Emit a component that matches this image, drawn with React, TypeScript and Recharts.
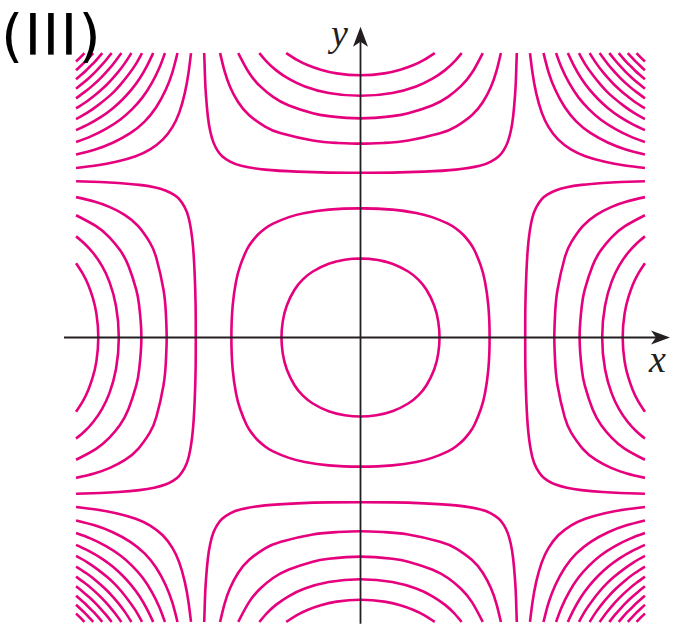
import React from "react";
import { LineChart, Line, XAxis, YAxis, ReferenceLine, ReferenceDot } from "recharts";

// level curves, first quadrant only (x, y in plot units)
const innerRing = [[0, 0.497], [0.1, 0.489], [0.2, 0.464], [0.3, 0.415], [0.364, 0.364], [0.415, 0.3], [0.464, 0.2], [0.489, 0.1], [0.497, 0]];
const outerRing = [[0, 0.812], [0.2, 0.804], [0.35, 0.783], [0.45, 0.757], [0.55, 0.716], [0.6, 0.685], [0.646, 0.646], [0.685, 0.6], [0.716, 0.55], [0.757, 0.45], [0.783, 0.35], [0.804, 0.2], [0.812, 0]];

// side bands (right side, upper half)
const side1 = [[1.036, 0], [1.037, 0.2], [1.043, 0.4], [1.056, 0.6], [1.08, 0.75], [1.106, 0.82], [1.14, 0.87], [1.177, 0.9], [1.227, 0.925], [1.297, 0.945], [1.39, 0.96], [1.524, 0.972], [1.637, 0.978], [1.789, 0.983]];
const side2 = [[1.219, 0], [1.224, 0.15], [1.239, 0.3], [1.284, 0.5], [1.326, 0.6], [1.398, 0.7], [1.481, 0.77], [1.576, 0.82], [1.675, 0.855], [1.789, 0.883]];
const side3 = [[1.378, 0], [1.392, 0.2], [1.41, 0.3], [1.459, 0.45], [1.513, 0.55], [1.579, 0.63], [1.663, 0.7], [1.789, 0.769]];
const side4 = [[1.52, 0], [1.538, 0.2], [1.579, 0.35], [1.626, 0.45], [1.68, 0.53], [1.735, 0.59], [1.789, 0.636]];
const side5 = [[1.649, 0], [1.661, 0.15], [1.684, 0.25], [1.712, 0.33], [1.746, 0.4], [1.789, 0.467]];

// corner arcs (top-right corner)
const corner1 = [[1.066, 1.789], [1.082, 1.663], [1.105, 1.537], [1.14, 1.414], [1.183, 1.323], [1.244, 1.244], [1.323, 1.183], [1.414, 1.14], [1.537, 1.105], [1.663, 1.082], [1.789, 1.066]];
const corner2 = [[1.151, 1.789], [1.183, 1.668], [1.225, 1.558], [1.285, 1.448], [1.358, 1.358], [1.448, 1.285], [1.558, 1.225], [1.668, 1.183], [1.789, 1.151]];
const corner3 = [[1.23, 1.789], [1.265, 1.696], [1.312, 1.601], [1.371, 1.51], [1.436, 1.436], [1.51, 1.371], [1.601, 1.312], [1.696, 1.265], [1.789, 1.23]];
const corner4 = [[1.304, 1.789], [1.342, 1.71], [1.389, 1.629], [1.442, 1.557], [1.497, 1.497], [1.557, 1.442], [1.629, 1.389], [1.71, 1.342], [1.789, 1.304]];
const corner5 = [[1.374, 1.789], [1.414, 1.718], [1.46, 1.652], [1.507, 1.593], [1.548, 1.548], [1.593, 1.507], [1.652, 1.46], [1.718, 1.414], [1.789, 1.374]];
const corner6 = [[1.441, 1.789], [1.483, 1.724], [1.526, 1.667], [1.562, 1.626], [1.593, 1.593], [1.626, 1.562], [1.667, 1.526], [1.724, 1.483], [1.789, 1.441]];
const corner7 = [[1.504, 1.789], [1.543, 1.736], [1.581, 1.689], [1.633, 1.633], [1.689, 1.581], [1.736, 1.543], [1.789, 1.504]];
const corner8 = [[1.565, 1.789], [1.6, 1.745], [1.634, 1.706], [1.669, 1.669], [1.706, 1.634], [1.745, 1.6], [1.789, 1.565]];
const corner9 = [[1.624, 1.789], [1.652, 1.756], [1.679, 1.726], [1.703, 1.703], [1.726, 1.679], [1.756, 1.652], [1.789, 1.624]];
const corner10 = [[1.681, 1.789], [1.706, 1.762], [1.733, 1.733], [1.762, 1.706], [1.789, 1.681]];
const corner11 = [[1.736, 1.789], [1.762, 1.762], [1.789, 1.736]];

const rings = [innerRing, outerRing];
const sides = [side1, side2, side3, side4, side5];
const corners = [corner1, corner2, corner3, corner4, corner5, corner6, corner7, corner8, corner9, corner10, corner11];

const PINK = "#E6007E";
const INK = "#231F20";

type P = { x: number; y: number };
const pts = (a: number[][], sx = 1, sy = 1, swap = false): P[] =>
  a.map(([x, y]) => (swap ? { x: sx * y, y: sy * x } : { x: sx * x, y: sy * y }));

const series: P[][] = [];
rings.forEach((q) => {
  const loop = [
    ...pts(q),
    ...pts([...q].reverse(), 1, -1).slice(1),
    ...pts(q, -1, -1).slice(1),
    ...pts([...q].reverse(), -1, 1).slice(1),
    ...pts(q).slice(1, 3),
  ];
  series.push(loop);
});
sides.forEach((h) => {
  const full = [...[...h].reverse().map(([x, y]) => [x, -y]), ...h.slice(1)];
  series.push(pts(full, 1, 1), pts(full, -1, 1), pts(full, 1, 1, true), pts(full, 1, -1, true));
});
corners.forEach((c) => {
  series.push(pts(c, 1, 1), pts(c, -1, 1), pts(c, 1, -1), pts(c, -1, -1));
});

const xArrow = (p: any) => {
  const { cx, cy } = p;
  return <path d={`M${cx},${cy} L${cx - 19},${cy - 7} L${cx - 14},${cy} L${cx - 19},${cy + 7} Z`} fill={INK} />;
};
const yArrow = (p: any) => {
  const { cx, cy } = p;
  return <path d={`M${cx},${cy} L${cx - 7.5},${cy + 20} L${cx},${cy + 15} L${cx + 7.5},${cy + 20} Z`} fill={INK} />;
};

export default function App() {
  return (
    <div style={{ position: "absolute", left: 0, top: 0, width: 673, height: 624, background: "#fff" }}>
      <LineChart width={673} height={624} margin={{ top: 0, right: 0, bottom: 0, left: 0 }}>
        <XAxis type="number" dataKey="x" hide domain={[-2.2673, 1.9654]} allowDataOverflow />
        <YAxis type="number" dataKey="y" hide domain={[-1.8019, 2.1226]} allowDataOverflow />
        {series.map((s, i) => (
          <Line
            key={i}
            data={s}
            dataKey="y"
            type="natural"
            stroke={PINK}
            strokeWidth={2.6}
            dot={false}
            activeDot={false}
            isAnimationActive={false}
          />
        ))}
        <ReferenceLine segment={[{ x: -1.865, y: 0 }, { x: 1.86, y: 0 }]} stroke={INK} strokeWidth={1.8} />
        <ReferenceLine segment={[{ x: 0, y: -1.8 }, { x: 0, y: 1.87 }]} stroke={INK} strokeWidth={1.8} />
        <ReferenceDot x={1.9465} y={0} r={0} shape={xArrow} />
        <ReferenceDot x={0} y={1.955} r={0} shape={yArrow} />
      </LineChart>
      <svg width={673} height={624} style={{ position: "absolute", left: 0, top: 0, pointerEvents: "none" }}>
        <text x={1} y={55} fontFamily="DejaVu Sans" fontSize={57} letterSpacing={1.2} fill="#000">(III)</text>
        <text x={331} y={46} fontFamily="Liberation Serif" fontStyle="italic" fontSize={38} fill={INK}>y</text>
        <text x={649} y={372} fontFamily="Liberation Serif" fontStyle="italic" fontSize={38} fill={INK}>x</text>
      </svg>
    </div>
  );
}
